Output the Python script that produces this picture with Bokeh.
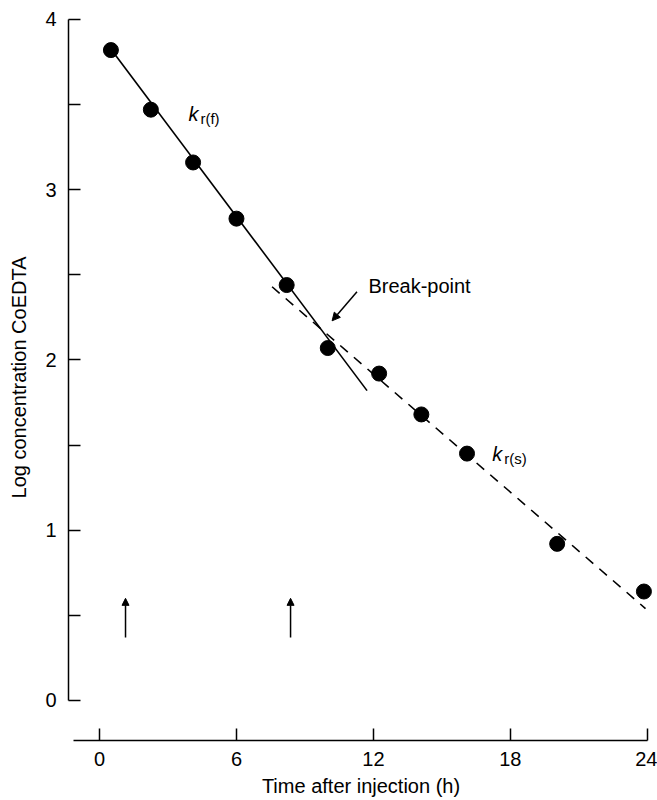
from bokeh.plotting import figure
from bokeh.models import FixedTicker, Range1d, Arrow, NormalHead
from bokeh.core.properties import value
from bokeh.embed import file_html
from bokeh.resources import INLINE

# ---- data ----
time_h = [0.5, 2.25, 4.1, 6.0, 8.2, 10.0, 12.25, 14.1, 16.1, 20.05, 23.85]
log_conc = [3.82, 3.47, 3.16, 2.83, 2.44, 2.07, 1.92, 1.68, 1.45, 0.92, 0.64]

fast_t = [0.53, 11.72]      # k_r(f) fitted line (solid)
fast_y = [3.82, 1.82]
slow_t = [7.56, 23.92]      # k_r(s) fitted line (dashed)
slow_y = [2.43, 0.54]

dose_t = [1.14, 8.37]       # injection arrows
dose_y0 = [0.37, 0.37]
dose_y1 = [0.60, 0.60]

break_tail = (11.28, 2.40)
break_head = (10.19, 2.23)

x_ticks = [0, 6, 12, 18, 24]
y_ticks = [0, 1, 2, 3, 4]
y_minor = [0.5, 1.5, 2.5, 3.5]

FONT = "Liberation Sans"

p = figure(width=657, height=800, output_backend="svg", toolbar_location=None,
           x_range=Range1d(-1.358, 24.27), y_range=Range1d(-0.235, 4.029),
           min_border_left=68, min_border_right=4, min_border_top=14, min_border_bottom=60)
p.grid.visible = False
p.outline_line_color = None
p.background_fill_color = "white"
p.border_fill_color = "white"

# axes
xa = p.xaxis[0]
xa.bounds = (-1.14, 24)
xa.ticker = FixedTicker(ticks=x_ticks)
xa.major_tick_in = 12
xa.major_tick_out = 0
xa.minor_tick_line_color = None
xa.axis_line_width = 1.5
xa.major_tick_line_width = 1.5
xa.axis_line_color = "black"
xa.major_tick_line_color = "black"
xa.major_label_text_font = FONT
xa.major_label_text_font_size = "20px"
xa.major_label_text_color = "black"
xa.major_label_standoff = 11
xa.axis_label = "Time after injection (h)"
xa.axis_label_text_font = FONT
xa.axis_label_text_font_size = "20px"
xa.axis_label_text_font_style = "normal"
xa.axis_label_text_color = "black"
xa.axis_label_standoff = 6

ya = p.yaxis[0]
ya.bounds = (0, 4)
ya.ticker = FixedTicker(ticks=y_ticks, minor_ticks=y_minor)
ya.major_tick_in = 12
ya.major_tick_out = 0
ya.minor_tick_in = 12
ya.minor_tick_out = 0
ya.axis_line_width = 1.5
ya.major_tick_line_width = 1.5
ya.minor_tick_line_width = 1.5
ya.axis_line_color = "black"
ya.major_tick_line_color = "black"
ya.minor_tick_line_color = "black"
ya.major_label_text_font = FONT
ya.major_label_text_font_size = "20px"
ya.major_label_text_color = "black"
ya.major_label_standoff = 12
ya.axis_label = "Log concentration CoEDTA"
ya.axis_label_text_font = FONT
ya.axis_label_text_font_size = "20px"
ya.axis_label_text_font_style = "normal"
ya.axis_label_text_color = "black"
ya.axis_label_standoff = 12

# fitted lines
p.line(fast_t, fast_y, line_color="black", line_width=1.6)
p.line(slow_t, slow_y, line_color="black", line_width=1.6, line_dash="10 8")

# data points
p.scatter(time_h, log_conc, size=15, fill_color="black", line_color="black")

# rate labels
p.text(x=[3.90], y=[3.442], text=["k"], text_font=value(FONT), text_font_size="20px",
       text_font_style="italic", text_baseline="alphabetic", text_color="black")
p.text(x=[4.42], y=[3.418], text=["r(f)"], text_font=value(FONT), text_font_size="15px",
       text_baseline="alphabetic", text_color="black")
p.text(x=[17.21], y=[1.45], text=["k"], text_font=value(FONT), text_font_size="20px",
       text_font_style="italic", text_baseline="alphabetic", text_color="black")
p.text(x=[17.73], y=[1.42], text=["r(s)"], text_font=value(FONT), text_font_size="15px",
       text_baseline="alphabetic", text_color="black")

# break-point
p.text(x=[11.78], y=[2.437], text=["Break-point"], text_font=value(FONT), text_font_size="20px",
       text_baseline="alphabetic", text_color="black")
p.add_layout(Arrow(end=NormalHead(size=8, fill_color="black", line_color="black"),
                   x_start=break_tail[0], y_start=break_tail[1],
                   x_end=break_head[0], y_end=break_head[1],
                   line_color="black", line_width=1.5))

# injection arrows
for t, y0, y1 in zip(dose_t, dose_y0, dose_y1):
    p.add_layout(Arrow(end=NormalHead(size=7, fill_color="black", line_color="black"),
                       x_start=t, y_start=y0, x_end=t, y_end=y1,
                       line_color="black", line_width=1.5))

open("out.html", "w").write(file_html(p, INLINE))
